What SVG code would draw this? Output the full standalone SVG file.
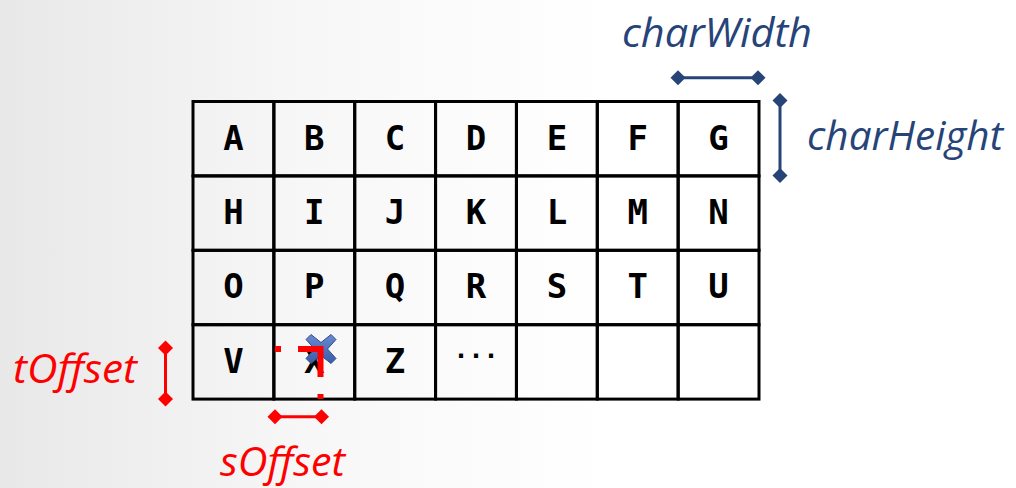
<svg xmlns="http://www.w3.org/2000/svg" width="1016" height="488" viewBox="0 0 1016 488">
<defs>
<linearGradient id="bg" x1="0" y1="0" x2="1" y2="0">
<stop offset="0" stop-color="#e8e8e8"/>
<stop offset="0.3" stop-color="#f7f7f7"/>
<stop offset="0.6" stop-color="#ffffff"/>
<stop offset="1" stop-color="#ffffff"/>
</linearGradient>
<linearGradient id="xg" x1="0" y1="0" x2="0" y2="1">
<stop offset="0" stop-color="#6a8ad0"/>
<stop offset="1" stop-color="#3a5ca6"/>
</linearGradient>
<marker id="dN" viewBox="-8 -8 16 16" markerWidth="16" markerHeight="16" markerUnits="userSpaceOnUse" refX="0" refY="0" orient="auto">
<path d="M0 -7.5 L7.5 0 L0 7.5 L-7.5 0 Z" fill="#264478"/>
</marker>
<marker id="dR" viewBox="-8 -8 16 16" markerWidth="16" markerHeight="16" markerUnits="userSpaceOnUse" refX="0" refY="0" orient="auto">
<path d="M0 -7.5 L7.5 0 L0 7.5 L-7.5 0 Z" fill="#ff0000"/>
</marker>
</defs>
<style>
.cell rect{fill:none;stroke:#000;stroke-width:3}
.cell text{font-family:"DejaVu Sans Mono","Liberation Mono",monospace;font-weight:bold;font-size:34px;fill:#000;text-anchor:middle}
.dimN{stroke:#264478;stroke-width:3;marker-start:url(#dN);marker-end:url(#dN)}
.dimR{stroke:#ff0000;stroke-width:3;marker-start:url(#dR);marker-end:url(#dR)}
.lbl{font-family:"Open Sans","Liberation Sans",sans-serif;font-style:italic;font-size:41px}
.lblN{fill:#264478}
.lblR{fill:#ff0000}
.dash{stroke:#ff0000;stroke-width:6;fill:none}
</style>
<rect x="0" y="0" width="1016" height="488" fill="url(#bg)"/>

<g id="cells">
<g id="cell-A" class="cell"><rect x="193" y="101.5" width="80.86" height="74.4"/><text x="233.4" y="149.5">A</text></g>
<g id="cell-B" class="cell"><rect x="273.86" y="101.5" width="80.86" height="74.4"/><text x="314.3" y="149.5">B</text></g>
<g id="cell-C" class="cell"><rect x="354.71" y="101.5" width="80.86" height="74.4"/><text x="395.1" y="149.5">C</text></g>
<g id="cell-D" class="cell"><rect x="435.57" y="101.5" width="80.86" height="74.4"/><text x="476" y="149.5">D</text></g>
<g id="cell-E" class="cell"><rect x="516.43" y="101.5" width="80.86" height="74.4"/><text x="556.9" y="149.5">E</text></g>
<g id="cell-F" class="cell"><rect x="597.29" y="101.5" width="80.86" height="74.4"/><text x="637.7" y="149.5">F</text></g>
<g id="cell-G" class="cell"><rect x="678.14" y="101.5" width="80.86" height="74.4"/><text x="718.6" y="149.5">G</text></g>

<g id="cell-H" class="cell"><rect x="193" y="175.9" width="80.86" height="74.4"/><text x="233.4" y="223.9">H</text></g>
<g id="cell-I" class="cell"><rect x="273.86" y="175.9" width="80.86" height="74.4"/><text x="314.3" y="223.9">I</text></g>
<g id="cell-J" class="cell"><rect x="354.71" y="175.9" width="80.86" height="74.4"/><text x="395.1" y="223.9">J</text></g>
<g id="cell-K" class="cell"><rect x="435.57" y="175.9" width="80.86" height="74.4"/><text x="476" y="223.9">K</text></g>
<g id="cell-L" class="cell"><rect x="516.43" y="175.9" width="80.86" height="74.4"/><text x="556.9" y="223.9">L</text></g>
<g id="cell-M" class="cell"><rect x="597.29" y="175.9" width="80.86" height="74.4"/><text x="637.7" y="223.9">M</text></g>
<g id="cell-N" class="cell"><rect x="678.14" y="175.9" width="80.86" height="74.4"/><text x="718.6" y="223.9">N</text></g>

<g id="cell-O" class="cell"><rect x="193" y="250.3" width="80.86" height="74.4"/><text x="233.4" y="298.3">O</text></g>
<g id="cell-P" class="cell"><rect x="273.86" y="250.3" width="80.86" height="74.4"/><text x="314.3" y="298.3">P</text></g>
<g id="cell-Q" class="cell"><rect x="354.71" y="250.3" width="80.86" height="74.4"/><text x="395.1" y="298.3">Q</text></g>
<g id="cell-R" class="cell"><rect x="435.57" y="250.3" width="80.86" height="74.4"/><text x="476" y="298.3">R</text></g>
<g id="cell-S" class="cell"><rect x="516.43" y="250.3" width="80.86" height="74.4"/><text x="556.9" y="298.3">S</text></g>
<g id="cell-T" class="cell"><rect x="597.29" y="250.3" width="80.86" height="74.4"/><text x="637.7" y="298.3">T</text></g>
<g id="cell-U" class="cell"><rect x="678.14" y="250.3" width="80.86" height="74.4"/><text x="718.6" y="298.3">U</text></g>

<g id="cell-V" class="cell"><rect x="193" y="324.7" width="80.86" height="74.4"/><text x="233.4" y="372.7">V</text></g>
<g id="cell-X" class="cell"><rect x="273.86" y="324.7" width="80.86" height="74.4"/><text x="314.3" y="372.7">X</text></g>
<g id="cell-Z" class="cell"><rect x="354.71" y="324.7" width="80.86" height="74.4"/><text x="395.1" y="372.7">Z</text></g>
<g id="cell-more" class="cell"><rect x="435.57" y="324.7" width="80.86" height="74.4"/><text x="476" y="364" style="font-size:25px">···</text></g>
<g id="cell-e1" class="cell"><rect x="516.43" y="324.7" width="80.86" height="74.4"/></g>
<g id="cell-e2" class="cell"><rect x="597.29" y="324.7" width="80.86" height="74.4"/></g>
<g id="cell-e3" class="cell"><rect x="678.14" y="324.7" width="80.86" height="74.4"/></g>
</g>

<g id="sample-point">
<path d="M321 349 m-10 -14.5 l10 8 l10 -8 l5 5 l-8.5 9.5 l8.5 9.5 l-5 5 l-10 -8 l-10 8 l-5 -5 l8.5 -9.5 l-8.5 -9.5 Z" fill="url(#xg)" stroke="#2f4f8f" stroke-width="1"/>
</g>

<g id="connectors">
<line class="dimN" x1="678" y1="77.7" x2="758" y2="77.7"/>
<line class="dimN" x1="780" y1="100.5" x2="780" y2="175.5"/>
<line class="dimR" x1="165.5" y1="348" x2="165.5" y2="399"/>
<line class="dimR" x1="275" y1="416.7" x2="321.5" y2="416.7"/>
<line class="dash" x1="275" y1="349" x2="281" y2="349"/>
<path class="dash" d="M298 349 H320.5 V377"/>
<line class="dash" x1="320.5" y1="394" x2="320.5" y2="399"/>
</g>

<g id="labels">
<text class="lbl lblN" x="622" y="47" textLength="190" lengthAdjust="spacingAndGlyphs">charWidth</text>
<text class="lbl lblN" x="807" y="150" textLength="196" lengthAdjust="spacingAndGlyphs">charHeight</text>
<text class="lbl lblR" x="13" y="383" textLength="124" lengthAdjust="spacingAndGlyphs">tOffset</text>
<text class="lbl lblR" x="220" y="476" textLength="125" lengthAdjust="spacingAndGlyphs">sOffset</text>
</g>
</svg>
